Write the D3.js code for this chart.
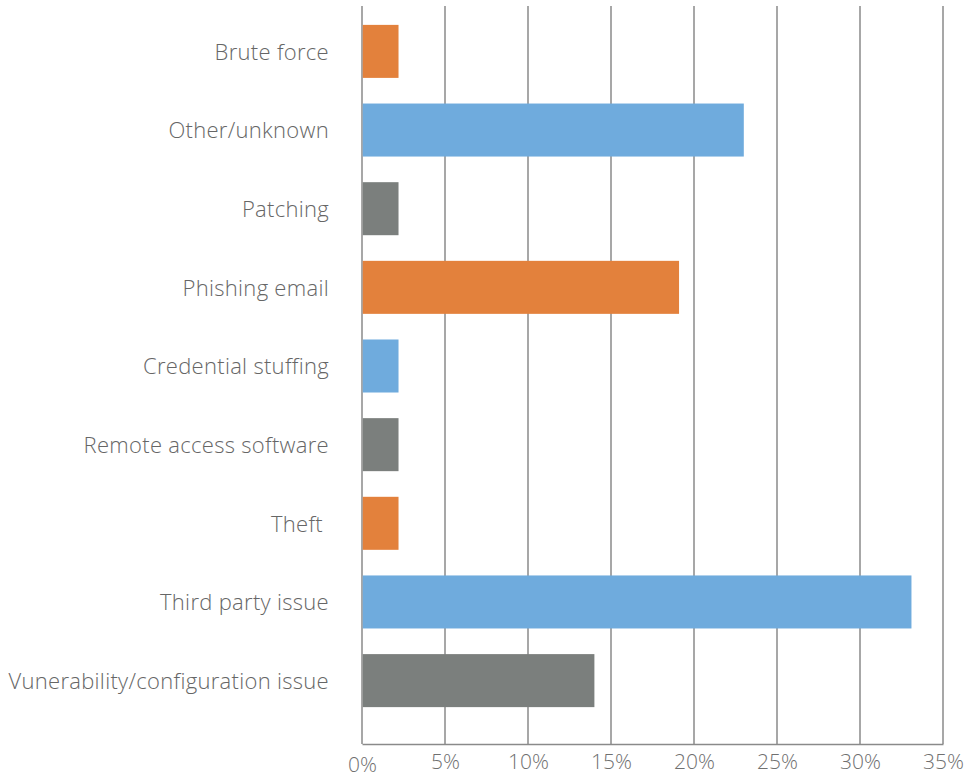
<!DOCTYPE html>
<html>
<head>
<meta charset="utf-8">
<script src="https://cdn.jsdelivr.net/npm/d3@7"></script>
<style>
  body { margin: 0; background: #fff; }
  text { font-family: "Open Sans", Lato, sans-serif; font-weight: 300; }
</style>
</head>
<body>
<div id="chart"></div>
<script>
// data
const categories = ["Brute force", "Other/unknown", "Patching", "Phishing email",
  "Credential stuffing", "Remote access software", "Theft ", "Third party issue",
  "Vunerability/configuration issue"];
const values = [2.2, 23.0, 2.2, 19.1, 2.2, 2.2, 2.2, 33.1, 14.0];
const colors = ["#E3813C", "#6FABDD", "#7B7F7D"];
const ticks = [0, 5, 10, 15, 20, 25, 30, 35];

// constants
const w = 968,
      h = 780,
      xLeft = 362,
      xRight = 943,
      yTop = 6,
      yBottom = 744;

let chart = d3.select("#chart")
              .append("svg")
              .attr("width", w)
              .attr("height", h);

let xScale = d3.scaleLinear()
               .domain([0, 35])
               .range([xLeft, xRight]);

let yScale = d3.scaleBand()
               .domain(categories)
               .range([6, 726])
               .paddingInner(0.326)
               .paddingOuter(0.24);

// grid lines
chart.append("g")
     .selectAll("line")
     .data(ticks)
     .enter()
     .append("line")
     .attr("x1", d => xScale(d))
     .attr("x2", d => xScale(d))
     .attr("y1", yTop)
     .attr("y2", yBottom)
     .attr("stroke", "#8a8a8a")
     .attr("stroke-width", 1.5);

// bars
chart.append("g")
     .selectAll("rect")
     .data(values)
     .enter()
     .append("rect")
     .attr("x", xScale(0) + 0.75)
     .attr("y", (d, i) => yScale(categories[i]))
     .attr("width", d => xScale(d) - xScale(0) - 0.75)
     .attr("height", yScale.bandwidth())
     .attr("fill", (d, i) => colors[i % 3]);

// x axis
let xAxis = d3.axisBottom(xScale)
              .tickValues(ticks)
              .tickSize(0)
              .tickPadding(11)
              .tickFormat(d => d + "%");
let gx = chart.append("g")
     .attr("transform", `translate(0, ${yBottom})`)
     .call(xAxis);
gx.select(".domain").attr("stroke", "#8a8a8a").attr("stroke-width", 1.5);
gx.selectAll("text")
  .attr("font-size", 21)
  .attr("fill", "#707070")
  .style("font-family", "'Open Sans', sans-serif")
  .attr("dy", (d) => d === 0 ? "0.82em" : "0.68em");

// y labels
let yAxis = d3.axisLeft(yScale)
              .tickSize(0)
              .tickPadding(33);
let gy = chart.append("g")
     .attr("transform", `translate(${xLeft}, 0)`)
     .call(yAxis);
gy.select(".domain").remove();
gy.selectAll("text")
  .attr("font-size", 22)
  .attr("fill", "#666")
  .attr("dy", "0.38em")
  .style("letter-spacing", "0.3px")
  .style("font-family", "'Open Sans', sans-serif")
  .style("white-space", "pre");
</script>
</body>
</html>
